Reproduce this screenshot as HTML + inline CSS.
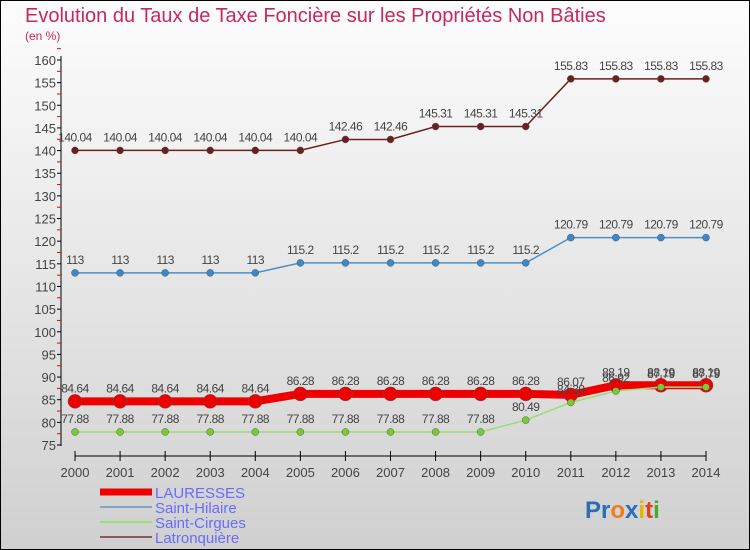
<!DOCTYPE html>
<html><head><meta charset="utf-8"><style>
body{margin:0;width:750px;height:550px;overflow:hidden;font-family:"Liberation Sans",sans-serif}
#c{position:absolute;left:0;top:0;width:748px;height:548px;border:1px solid #000;background:linear-gradient(#fdfdfd,#d0d0d0)}
</style></head><body>
<div id="c"></div>
<svg id="s" width="750" height="550" style="position:absolute;left:0;top:0">
<text x="25" y="22" font-size="20" fill="#c8285a">Evolution du Taux de Taxe Foncière sur les Propriétés Non Bâties</text>
<text x="25" y="40" font-size="12" fill="#c8285a">(en %)</text>
<g id="ax"></g><g id="ser"></g>
<text x="585" y="518" font-size="24" font-weight="bold"><tspan fill="#2a6ebb">Pr</tspan><tspan fill="#f07d19">o</tspan><tspan fill="#2a6ebb">x</tspan><tspan fill="#e8b400">i</tspan><tspan fill="#e0401a">t</tspan><tspan fill="#4aa82e">i</tspan></text>
</svg>
<script>
const years=[2000,2001,2002,2003,2004,2005,2006,2007,2008,2009,2010,2011,2012,2013,2014];
const yTicks=[75,80,85,90,95,100,105,110,115,120,125,130,135,140,145,150,155,160];
const lauresses=[84.64,84.64,84.64,84.64,84.64,86.28,86.28,86.28,86.28,86.28,86.28,86.07,88.19,88.19,88.19];
const hilaire=[113,113,113,113,113,115.2,115.2,115.2,115.2,115.2,115.2,120.79,120.79,120.79,120.79];
const cirgues=[77.88,77.88,77.88,77.88,77.88,77.88,77.88,77.88,77.88,77.88,80.49,84.39,86.92,87.79,87.79];
const latron=[140.04,140.04,140.04,140.04,140.04,140.04,142.46,142.46,145.31,145.31,145.31,155.83,155.83,155.83,155.83];
const seriesNames=["LAURESSES","Saint-Hilaire","Saint-Cirgues","Latronquière"];
const NS="http://www.w3.org/2000/svg";
const X=i=>75+i*(706-75)/(years.length-1);
const Y=v=>445-(v-75)*(445-60)/85;
function mk(tag,a,p){const e=document.createElementNS(NS,tag);for(const k in a)e.setAttribute(k,a[k]);p.appendChild(e);return e;}
const ax=document.getElementById('ax'),ser=document.getElementById('ser');
let l=mk('line',{x1:61,y1:56,x2:61,y2:446,stroke:'#000'},ax);


yTicks.forEach(v=>{
 mk('line',{x1:57,x2:61,y1:Y(v),y2:Y(v),stroke:'#000'},ax);
 mk('line',{x1:57,x2:61,y1:Y(v+2.5),y2:Y(v+2.5),stroke:'#e00'},ax);
 const t=mk('text',{x:56,y:Y(v)+5,'text-anchor':'end','font-size':13,fill:'#444'},ax);t.textContent=v;
 
 
});
l=mk('line',{x1:75,y1:456,x2:706,y2:456,stroke:'#000'},ax);


years.forEach((y,i)=>{
 mk('line',{x1:X(i),x2:X(i),y1:451,y2:461,stroke:'#000'},ax);
 const t=mk('text',{x:X(i),y:477,'text-anchor':'middle','font-size':13,fill:'#444'},ax);t.textContent=y;
 
 
});
const defs=[[latron,'#6b1f1f','#6b1f1f',1.5,3.5,'latronquiere'],[hilaire,'#4b90c8','#3b88cc',1.5,3.5,'saint-hilaire'],[lauresses,'#ee0000','#ee0000',8,7,'lauresses'],[cirgues,'#99dd77','#77cc33',1.5,3.5,'saint-cirgues']];
defs.forEach(([d,lc,pc,w,r,n])=>{
 const p=mk('polyline',{points:d.map((v,i)=>X(i)+','+Y(v)).join(' '),fill:'none',stroke:lc,'stroke-width':w},ser);
 
 
 d.forEach((v,i)=>{
  const c=mk('circle',{cx:X(i),cy:Y(v),r:r,fill:pc,stroke:'#555','stroke-width':0.5},ser);
  
  
  const t=mk('text',{x:X(i),y:Y(v)-9,'text-anchor':'middle','font-size':12,fill:'#444','letter-spacing':'-0.5'},ser);
  t.textContent=v;
  
  
 });
});
const lg=[['#ee0000',7],['#7fa8c8',2],['#99dd77',2],['#8b5a5a',2]];
seriesNames.forEach((n,i)=>{
 const y=492+i*15;
 const ln=mk('line',{x1:100,x2:152,y1:y,y2:y,stroke:lg[i][0],'stroke-width':lg[i][1]},ax);
 
 
 const t=mk('text',{x:155,y:y+6,'font-size':15,fill:'#6a6aff'},ax);t.textContent=n;
 
 
});
</script>
</body></html>
